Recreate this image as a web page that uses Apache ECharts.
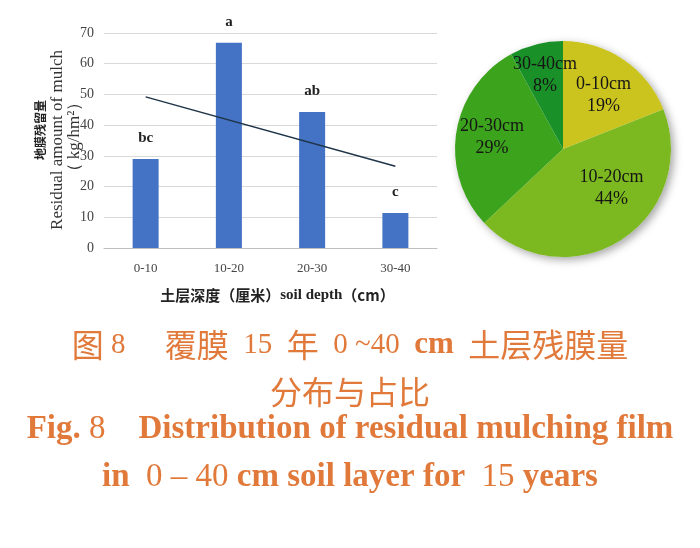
<!DOCTYPE html>
<html>
<head>
<meta charset="utf-8">
<script src="https://cdn.jsdelivr.net/npm/echarts@6/dist/echarts.min.js"></script>
<style>html,body{margin:0;padding:0;background:#fff;}#c{width:700px;height:548px;}</style>
</head>
<body>
<div id="c"></div>
<script>
var categories = ['0-10', '10-20', '20-30', '30-40'];
var residual = [29.0, 66.8, 44.3, 11.4];
var sigLetters = ['bc', 'a', 'ab', 'c'];
var trend = [49.2, null, null, 26.6];
var pieShares = [19, 44, 29, 8];
var pieNames = ['0-10cm', '10-20cm', '20-30cm', '30-40cm'];

var SERIF = "'Liberation Serif','Times New Roman',serif";
var CJK = "'Noto Sans CJK SC',sans-serif";
var ORANGE = '#e0793a';
var pieColors = ['#cbc41e', '#7cb81f', '#3ca31c', '#1a9128'];

var chart = echarts.init(document.getElementById('c'));

var pieData = pieNames.map(function (n, i) {
  return { name: n, value: pieShares[i], itemStyle: { color: pieColors[i] } };
});

var LH = 36;
var capCJK = { fontFamily: CJK, fontSize: 32, color: ORANGE, fontWeight: 'normal', lineHeight: LH };
var capNum = { fontFamily: SERIF, fontSize: 29, color: ORANGE, fontWeight: 'normal', lineHeight: LH };
var capLat = { fontFamily: SERIF, fontSize: 33, color: ORANGE, fontWeight: 'normal', lineHeight: LH };
var capBold = { fontFamily: SERIF, fontSize: 33, color: ORANGE, fontWeight: 'bold', lineHeight: LH };
var capBoldS = { fontFamily: SERIF, fontSize: 31, color: ORANGE, fontWeight: 'bold', lineHeight: LH };
var capRich = { h: capCJK, n: capNum, l: capLat, b: capBold, s: capBoldS };

chart.setOption({
  animation: false,
  backgroundColor: '#fff',
  title: [
    {
      text: '{h|图}{n| 8}{h|　 }{h|覆膜}{n|  15  }{h|年}{n|  0 ~40  }{s|cm}{n|  }{h|土层残膜量}',
      left: 'center', top: 327, padding: 0,
      textStyle: { rich: capRich }
    },
    {
      text: '{h|分布与占比}',
      left: 'center', top: 374, padding: 0,
      textStyle: { rich: capRich }
    },
    {
      text: '{b|Fig.}{l| 8}{b|    Distribution of residual mulching film}',
      left: 'center', top: 411, padding: 0,
      textStyle: { rich: capRich }
    },
    {
      text: '{b|in}{l|  0 – 40 }{b|cm soil layer for}{l|  15 }{b|years}',
      left: 'center', top: 459, padding: 0,
      textStyle: { rich: capRich }
    }
  ],
  graphic: [
    {
      type: 'text', x: 40, y: 130, rotation: Math.PI / 2,
      style: { text: '地膜残留量', fontFamily: CJK, fontWeight: 'bold', fontSize: 12, fill: '#222', align: 'center', verticalAlign: 'middle' }
    },
    {
      type: 'text', x: 58, y: 140, rotation: Math.PI / 2,
      style: { text: 'Residual amount of mulch', fontFamily: SERIF, fontSize: 17, fill: '#333', align: 'center', verticalAlign: 'middle' }
    },
    {
      type: 'text', x: 75, y: 137, rotation: Math.PI / 2,
      style: { text: '（ kg/hm²）', fontFamily: SERIF, fontSize: 17, fill: '#333', align: 'center', verticalAlign: 'middle' }
    }
  ],
  grid: { left: 104, right: 263, top: 33, bottom: 300, containLabel: false },
  xAxis: {
    type: 'category',
    data: categories,
    axisLine: { lineStyle: { color: '#bfbfbf' } },
    axisTick: { show: false },
    axisLabel: { fontFamily: SERIF, fontSize: 13, color: '#444', margin: 14 },
    name: '{c|土层深度（厘米）}{e|soil depth}{c|（cm）}',
    nameLocation: 'middle',
    nameGap: 40,
    nameTextStyle: {
      padding: [0, 0, 0, 14],
      rich: {
        c: { fontFamily: CJK, fontWeight: 'bold', fontSize: 15, color: '#222' },
        e: { fontFamily: SERIF, fontWeight: 'bold', fontSize: 15, color: '#222' }
      }
    }
  },
  yAxis: {
    type: 'value',
    min: 0, max: 70, interval: 10,
    axisLine: { show: false },
    axisTick: { show: false },
    axisLabel: { fontFamily: SERIF, fontSize: 14, color: '#444', margin: 10 },
    splitLine: { lineStyle: { color: '#d9d9d9' } }
  },
  series: [
    {
      type: 'bar',
      data: residual,
      barWidth: 26,
      itemStyle: { color: '#4472c4' },
      label: {
        show: true, position: 'top', distance: 13,
        formatter: function (p) { return sigLetters[p.dataIndex]; },
        fontFamily: SERIF, fontWeight: 'bold', fontSize: 15, color: '#222'
      },
      z: 2
    },
    {
      type: 'line',
      data: trend,
      connectNulls: true,
      symbol: 'none',
      lineStyle: { color: '#1e3448', width: 1.5 },
      z: 3
    },
    {
      type: 'pie',
      center: [563, 149],
      radius: 108,
      data: [{ value: 1, name: 'shadow' }],
      itemStyle: { color: '#ffffff', shadowBlur: 8, shadowOffsetX: 3, shadowOffsetY: 3, shadowColor: 'rgba(0,0,0,0.35)' },
      label: { show: false },
      labelLine: { show: false },
      emphasis: { disabled: true },
      silent: true,
      z: 1
    },
    {
      type: 'pie',
      center: [563, 149],
      radius: 108,
      startAngle: 90,
      clockwise: true,
      data: pieData,
      label: { show: false },
      labelLine: { show: false },
      itemStyle: { borderWidth: 0 },
      emphasis: { disabled: true },
      silent: true,
      z: 2
    },
    {
      type: 'pie',
      center: [563, 149],
      radius: [0, 138],
      startAngle: 90,
      clockwise: true,
      avoidLabelOverlap: false,
      data: pieData.map(function (d) { return { name: d.name, value: d.value, itemStyle: { color: 'rgba(0,0,0,0)' } }; }),
      label: {
        show: true, position: 'inside',
        formatter: '{b}\n{c}%',
        fontFamily: SERIF, fontSize: 18, color: '#151515', lineHeight: 22
      },
      labelLayout: function (p) {
        if (p.dataIndex === 0) { return { dy: 6 }; }
        if (p.dataIndex === 1) { return { dx: 10, dy: -22 }; }
        if (p.dataIndex === 3) { return { dy: -4 }; }
        return {};
      },
      labelLine: { show: false },
      emphasis: { disabled: true },
      silent: true,
      z: 5
    }
  ]
});
</script>
</body>
</html>
